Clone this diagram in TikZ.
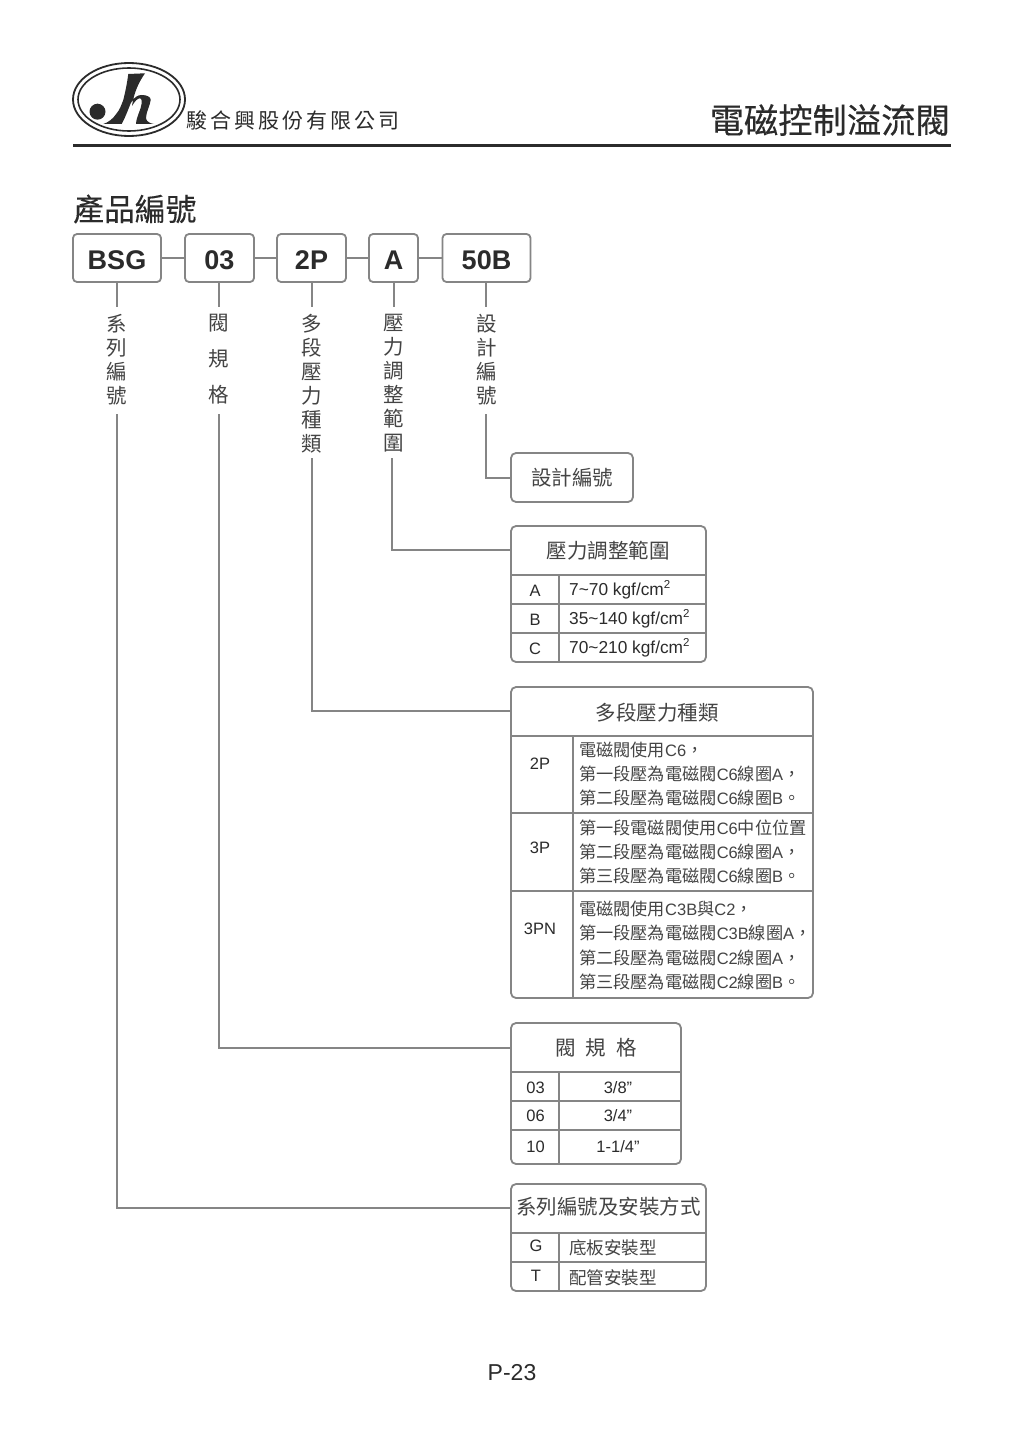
\documentclass[tikz,border=0pt]{standalone}
\usepackage{fontspec}
\usetikzlibrary{shapes.geometric}
\setmainfont{Liberation Sans}
\newfontfamily\cjk[Scale=1.042]{Noto Sans CJK TC}
\newfontfamily\cjkraw{Noto Sans CJK TC}
\newfontfamily\cjkheavy[FakeBold=0.3]{Noto Sans CJK TC}
\newcommand{\Zh}[1]{{\cjk #1}}
\newcommand{\fsz}[1]{\fontsize{#1}{#1}\selectfont}
\newcommand{\sqr}{\raisebox{.42em}{\fsz{11.5}2}}
\definecolor{ink}{HTML}{2B2B2B}
\definecolor{cjkink}{HTML}{444444}
\definecolor{ln}{HTML}{858585}
\tikzset{
  lnk/.style={draw=ln,line width=1.8pt},
  topbox/.style={draw=ln,line width=1.8pt,rounded corners=4pt,inner sep=0,outer sep=0,text=ink,font=\bfseries\fsz{27},minimum height=48pt,text height=23.4pt,text depth=0pt},
  tblbox/.style={draw=ln,line width=1.8pt,rounded corners=5pt,inner sep=0,outer sep=0,anchor=north west},
  vlabel/.style={inner sep=0,outer sep=0,text=cjkink,font=\cjkraw\fsz{20.5},align=center,anchor=north,text width=24pt,execute at begin node=\setlength{\baselineskip}{#1}},
  title/.style={inner sep=0,text=cjkink,font=\cjkraw\fsz{20.5}},
  cell/.style={inner sep=0,text=ink,font=\fsz{16.5}},
  lcell/.style={cell,anchor=west,align=left},
  rangecell/.style={lcell,font=\fsz{17.3}},
  mcell/.style={lcell,text=cjkink,execute at begin node=\setlength{\baselineskip}{24.2pt}},
  mount/.style={inner sep=0,anchor=west,text=cjkink,font=\cjkraw\fsz{17.5}},
}
\begin{document}
\begin{tikzpicture}[x=1pt,y=-1pt]
\useasboundingbox (0,0) rectangle (1024,1447);
\fill[white] (0,0) rectangle (1024,1447);

% logo
\node[draw=ink,line width=1.8pt,ellipse,inner sep=0,minimum width=112pt,minimum height=73pt] (logoa) at (129,99.5) {};
\node[draw=ink,line width=1.6pt,ellipse,inner sep=0,minimum width=102pt,minimum height=63pt] (logob) at (129,99.5) {};
\fill[ink] (97.5,111.7) circle (8);
\fill[ink] (128.3,74) .. controls (127,84) and (125,93) .. (123.3,100)
  .. controls (121,106) and (119.5,110) .. (116.7,113.3)
  .. controls (113,119) and (108,122.5) .. (103.3,124)
  -- (121.7,124) .. controls (125,118) and (128,110) .. (130.7,103.3)
  .. controls (134,97) and (138,95) .. (141.7,95)
  .. controls (147,95) and (151,97) .. (150.7,100)
  .. controls (150,106) and (146,112) .. (146,118.3)
  .. controls (146.5,121.5) and (150,123.5) .. (154,124)
  -- (136,124)
  .. controls (136.5,116) and (141,110) .. (141.7,103.3)
  .. controls (142,99.5) and (141,98.3) .. (140,98.3)
  .. controls (137.5,98.3) and (135,101) .. (132,106)
  .. controls (134,92) and (139,82) .. (145,73.3) -- cycle;

\node[inner sep=0,text=ink,font=\cjkraw\fsz{21},anchor=west] (company) at (186,120)
  {駿\hspace{3pt}合\hspace{3pt}興\hspace{3pt}股\hspace{3pt}份\hspace{3pt}有\hspace{3pt}限\hspace{3pt}公\hspace{3pt}司};
\node[inner sep=0,text=ink,font=\cjkheavy\fsz{34.3},anchor=east] (pagetitle) at (950,120) {電磁控制溢流閥};
\draw[draw=ink,line width=3pt] (73,146) -- (951,146);
\node[inner sep=0,text=ink,font=\cjkheavy\fsz{30.8},anchor=west] (section) at (73,209) {產品編號};

% code boxes
\node[topbox,minimum width=88pt] (bsg) at (117,258) {BSG};
\node[topbox,minimum width=69pt] (n03) at (219.5,258) {03};
\node[topbox,minimum width=69pt] (n2p) at (311.5,258) {2P};
\node[topbox,minimum width=49pt] (na) at (393.5,258) {A};
\node[topbox,minimum width=88pt] (n50b) at (486.5,258) {50B};
\draw[lnk] (bsg) -- (n03);
\draw[lnk] (n03) -- (n2p);
\draw[lnk] (n2p) -- (na);
\draw[lnk] (na) -- (n50b);

% vertical labels
\node[vlabel=24pt] (l1) at (117,314) {系\\列\\編\\號};
\node[vlabel=36pt] (l2) at (219,314) {閥\\規\\格};
\node[vlabel=24pt] (l3) at (311.5,314) {多\\段\\壓\\力\\種\\類};
\node[vlabel=24pt] (l4) at (393.5,314) {壓\\力\\調\\整\\範\\圍};
\node[vlabel=24pt] (l5) at (486.5,314) {設\\計\\編\\號};

\coordinate (g1) at (117,306.5); \coordinate (g2) at (219,306.5); \coordinate (g3) at (312,306.5);
\coordinate (g4) at (394,306.5); \coordinate (g5) at (486,306.5);
\draw[lnk] (bsg.south -| g1) -- (g1);
\draw[lnk] (n03.south -| g2) -- (g2);
\draw[lnk] (n2p.south -| g3) -- (g3);
\draw[lnk] (na.south -| g4) -- (g4);
\draw[lnk] (n50b.south -| g5) -- (g5);

% tables
\node[tblbox,minimum width=122pt,minimum height=49pt] (t5) at (511,453) {};
\node[title] (t5t) at (572,478) {設計編號};

\node[tblbox,minimum width=195pt,minimum height=136pt] (t4) at (511,526) {};
\node[title] (t4t) at (608,551) {壓力調整範圍};
\draw[lnk] (t4.west |- 0,575) -- (t4.east |- 0,575);
\draw[lnk] (t4.west |- 0,604) -- (t4.east |- 0,604);
\draw[lnk] (t4.west |- 0,633) -- (t4.east |- 0,633);
\draw[lnk] (559,575) -- (559,662);
\node[cell] (t4a) at (535,590.5) {A};
\node[cell] (t4b) at (535,620) {B};
\node[cell] (t4c) at (535,649) {C};
\node[rangecell] (t4av) at (569,589.5) {7\char`~70 kgf/cm\sqr};
\node[rangecell] (t4bv) at (569,618.5) {35\char`~140 kgf/cm\sqr};
\node[rangecell] (t4cv) at (569,647.5) {70\char`~210 kgf/cm\sqr};

\node[tblbox,minimum width=302pt,minimum height=311pt] (t3) at (511,687) {};
\node[title] (t3t) at (657,712.5) {多段壓力種類};
\draw[lnk] (t3.west |- 0,736) -- (t3.east |- 0,736);
\draw[lnk] (t3.west |- 0,813) -- (t3.east |- 0,813);
\draw[lnk] (t3.west |- 0,891) -- (t3.east |- 0,891);
\draw[lnk] (573,736) -- (573,998);
\node[cell] (r1) at (540,763.5) {2P};
\node[cell] (r2) at (540,847.5) {3P};
\node[cell] (r3) at (540,929) {3PN};
\node[mcell] (r1v) at (579,774) {\Zh{電磁閥使用}C6\Zh{，}\\\Zh{第一段壓為電磁閥}C6\Zh{線圈}A\Zh{，}\\\Zh{第二段壓為電磁閥}C6\Zh{線圈}B\Zh{。}};
\node[mcell] (r2v) at (579,852) {\Zh{第一段電磁閥使用}C6\Zh{中位位置}\\\Zh{第二段壓為電磁閥}C6\Zh{線圈}A\Zh{，}\\\Zh{第三段壓為電磁閥}C6\Zh{線圈}B\Zh{。}};
\node[mcell] (r3v) at (579,945.5) {\Zh{電磁閥使用}C3B\Zh{與}C2\Zh{，}\\\Zh{第一段壓為電磁閥}C3B\Zh{線圈}A\Zh{，}\\\Zh{第二段壓為電磁閥}C2\Zh{線圈}A\Zh{，}\\\Zh{第三段壓為電磁閥}C2\Zh{線圈}B\Zh{。}};

\node[tblbox,minimum width=170pt,minimum height=141pt] (t2) at (511,1023) {};
\node[title] (t2t) at (596,1048) {閥\hspace{10pt}規\hspace{10pt}格};
\draw[lnk] (t2.west |- 0,1072) -- (t2.east |- 0,1072);
\draw[lnk] (t2.west |- 0,1101) -- (t2.east |- 0,1101);
\draw[lnk] (t2.west |- 0,1130) -- (t2.east |- 0,1130);
\draw[lnk] (559,1072) -- (559,1164);
\node[cell] (s1) at (535.5,1087.5) {03};
\node[cell] (s2) at (535.5,1116) {06};
\node[cell] (s3) at (535.5,1146.5) {10};
\node[cell] (s1v) at (618,1087.5) {3/8”};
\node[cell] (s2v) at (618,1116) {3/4”};
\node[cell] (s3v) at (618,1146.5) {1-1/4”};

\node[tblbox,minimum width=195pt,minimum height=107pt] (t1) at (511,1184) {};
\node[title] (t1t) at (608.5,1207) {系列編號及安裝方式};
\draw[lnk] (t1.west |- 0,1233) -- (t1.east |- 0,1233);
\draw[lnk] (t1.west |- 0,1262) -- (t1.east |- 0,1262);
\draw[lnk] (559,1233) -- (559,1291);
\node[cell] (g) at (536,1245.5) {G};
\node[cell] (t) at (536,1275.5) {T};
\node[mount] (gv) at (569,1247.5) {底板安裝型};
\node[mount] (tv) at (569,1277.5) {配管安裝型};

% long connectors
\coordinate (c1) at (117,414); \coordinate (c2) at (219,414); \coordinate (c3) at (312,458);
\coordinate (c4) at (392,458); \coordinate (c5) at (486,414);
\coordinate (p5) at (511,478); \coordinate (p4) at (511,550); \coordinate (p3) at (511,711);
\coordinate (p2) at (511,1048); \coordinate (p1) at (511,1208);
\draw[lnk] (c5) |- (p5);
\draw[lnk] (c4) |- (p4);
\draw[lnk] (c3) |- (p3);
\draw[lnk] (c2) |- (p2);
\draw[lnk] (c1) |- (p1);

\node[inner sep=0,text=ink,font=\fsz{23}] (pg) at (512,1373) {P-23};
\end{tikzpicture}
\end{document}
